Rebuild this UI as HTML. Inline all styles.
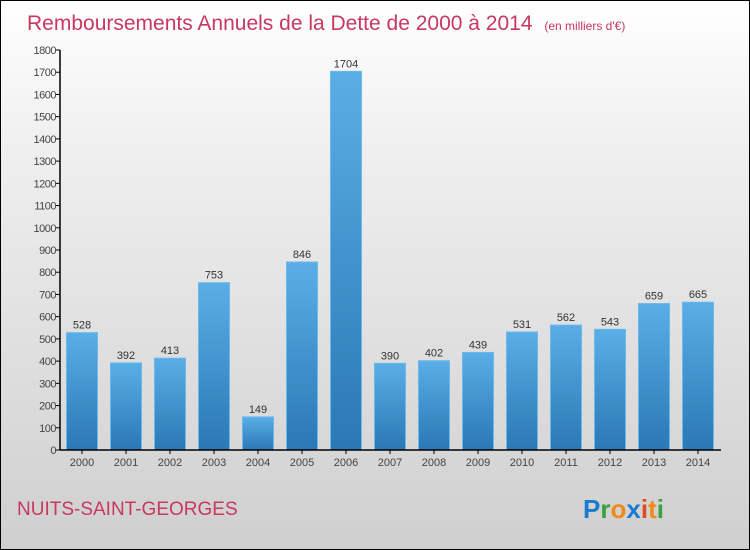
<!DOCTYPE html>
<html><head><meta charset="utf-8"><style>
body{margin:0}
#c{width:750px;height:550px;position:relative;box-sizing:border-box;border:1px solid #000;background:linear-gradient(#fff,#f0f0f0 25%,#cfcfcf);font-family:"Liberation Sans",sans-serif;overflow:hidden}
</style></head><body>
<div id="c">
<svg width="748" height="548" style="position:absolute;left:0;top:0">
<defs><linearGradient id="g" x1="0" y1="0" x2="0" y2="1"><stop offset="0" stop-color="#5aaee6"/><stop offset="1" stop-color="#2a78b4"/></linearGradient></defs>
<text x="26" y="29" font-size="21" fill="#c8385f">Remboursements Annuels de la Dette de 2000 à 2014 <tspan font-size="12" dx="6">(en milliers d'€)</tspan></text>
<g id="plot"></g>
<text x="16" y="514" font-size="19" fill="#c8385f">NUITS-SAINT-GEORGES</text>
<text x="582" y="517" font-size="26" font-weight="bold"><tspan fill="#1a7ad0">P</tspan><tspan fill="#3aa040">r</tspan><tspan fill="#f08a1a">o</tspan><tspan fill="#1a7ad0">x</tspan><tspan fill="#e04a20">i</tspan><tspan fill="#f08a1a">t</tspan><tspan fill="#3aa040">i</tspan></text>
</svg>
</div>
<script>
const years=["2000","2001","2002","2003","2004","2005","2006","2007","2008","2009","2010","2011","2012","2013","2014"];
const values=[528,392,413,753,149,846,1704,390,402,439,531,562,543,659,665];
const ticks=[0,100,200,300,400,500,600,700,800,900,1000,1100,1200,1300,1400,1500,1600,1700,1800];
const NS="http://www.w3.org/2000/svg";
const g=document.getElementById('plot');
const y0=449,yMax=1800,h=400,x0=59;
function ys(v){return y0-v/yMax*h;}
function xs(i){return x0+22+i*44;}
function mk(t,a,txt){const e=document.createElementNS(NS,t);for(const k in a)e.setAttribute(k,a[k]);if(txt!==undefined)e.textContent=txt;g.appendChild(e);return e;}
ticks.forEach(t=>{
 const l=mk('line',{x1:x0-4,x2:x0,y1:ys(t),y2:ys(t),stroke:'#000'});
 
 
 const tx=mk('text',{x:x0-4,y:ys(t)+4,'font-size':11,'text-anchor':'end',fill:'#444','letter-spacing':'-0.5'},t);
 
 
});
values.forEach((v,i)=>{
 const cx=xs(i);
 const r=mk('rect',{x:cx-15.5,y:ys(v),width:31,height:y0-ys(v),fill:'url(#g)',stroke:'#6bb8ec','stroke-width':1});
 
 
 const lb=mk('text',{x:cx,y:ys(v)-4,'font-size':11,'text-anchor':'middle',fill:'#333'},v);
 
 
 const tk=mk('line',{x1:cx,x2:cx,y1:y0,y2:y0+4,stroke:'#000'});
 
 
 const xl=mk('text',{x:cx,y:y0+16,'font-size':11,'text-anchor':'middle',fill:'#444'},years[i]);
 
 
});
const ya=mk('line',{x1:x0,x2:x0,y1:ys(1800),y2:y0,stroke:'#000','stroke-width':1.5});


const xa=mk('line',{x1:x0,x2:720,y1:y0,y2:y0,stroke:'#000','stroke-width':1.5});


</script>
</body></html>
